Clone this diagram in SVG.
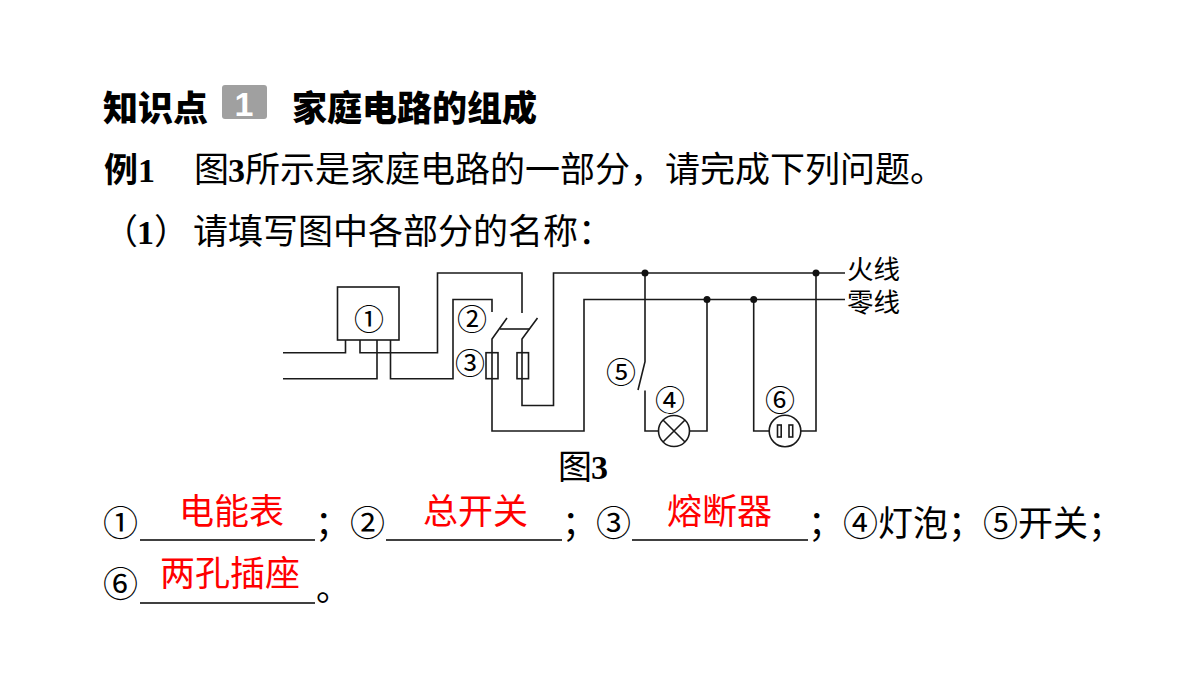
<svg xmlns="http://www.w3.org/2000/svg" width="1200" height="675" viewBox="0 0 1200 675">
<style>
text{font-family:"Liberation Serif","Noto Sans CJK SC",serif;fill:#000}
.t{font-size:35px;font-family:"Noto Sans CJK SC",sans-serif;font-weight:400}
.b{font-size:35px;font-family:"Noto Sans CJK SC",sans-serif;font-weight:900}
.n{font-size:34px;font-family:"Liberation Serif",serif;font-weight:700}
.r{font-size:35px;font-family:"Noto Sans CJK SC",sans-serif;fill:#f00}
.c{font-size:30px;font-family:"Noto Sans CJK SC",sans-serif;text-anchor:middle}
.l{font-size:26.5px;font-family:"Noto Sans CJK SC",sans-serif}
.w{fill:none;stroke:#1a1a1a;stroke-width:1.6}
.u{stroke:#000;stroke-width:1.6;fill:none}
.d{fill:#111}
</style>
<rect width="1200" height="675" fill="#fff"/>
<g id="heading">
<text class="b" x="103" y="121">知识点</text>
<rect x="222" y="85" width="45" height="34" rx="3" fill="#a0a0a0"/>
<text x="244" y="116" font-size="34" font-weight="700" text-anchor="middle" style="font-family:'Liberation Sans',sans-serif;fill:#fff">1</text>
<text class="b" x="292" y="121">家庭电路的组成</text>
</g>
<g id="question">
<text class="b" x="104" y="182" style="font-size:34px;font-weight:700">例</text><text class="n" x="138" y="182">1</text>
<text class="t" x="194" y="182">图</text><text class="n" x="228" y="182">3</text>
<text class="t" x="245" y="182">所示是家庭电路的一部分，请完成下列问题。</text>
<text class="t" x="103" y="244">（</text><text class="n" x="137" y="244">1</text><text class="t" x="154" y="244">）</text>
<text class="t" x="193" y="244">请填写图中各部分的名称：</text>
</g>
<g id="connectors">
<path class="w" d="M283 352.7H345.5V340"/>
<path class="w" d="M360 340V352.7H437.5V273H522V313"/>
<path class="w" d="M283 378.7H377V340"/>
<path class="w" d="M390.5 340V378.7H453V299.5H492V312"/>
<path class="w" d="M507 318L492 339V431H584V299.5H845"/>
<path class="w" d="M537.5 318L522 339V405.5H553.5V273H845"/>
<path class="w" d="M500 329H530"/>
<path class="w" d="M645 273V361.7L638 390"/>
<path class="w" d="M645 390.5V431H658.5"/>
<path class="w" d="M689.5 431H707V299.5"/>
<path class="w" d="M753.7 299.5V431H769"/>
<path class="w" d="M801 431H816V273"/>
<circle class="d" cx="645" cy="273" r="3.5"/>
<circle class="d" cx="707" cy="299.5" r="3.5"/>
<circle class="d" cx="753.7" cy="299.5" r="3.5"/>
<circle class="d" cx="816" cy="273" r="3.5"/>
</g>
<g id="meter"><rect class="w" x="337.5" y="287" width="61.5" height="53"/><text class="c" x="369" y="330">①</text></g>
<g id="switch-label"><text class="c" x="472" y="330">②</text></g>
<g id="fuses">
<text class="c" x="470" y="374">③</text>
<rect class="w" x="486" y="352.7" width="12" height="26"/>
<rect class="w" x="517" y="352.7" width="11.5" height="26"/>
</g>
<g id="switch-5"><text class="c" x="621" y="383">⑤</text></g>
<g id="lamp">
<text class="c" x="670" y="411">④</text>
<circle class="w" cx="674" cy="431" r="15.5"/>
<path class="w" d="M663 420L685 442M685 420L663 442"/>
</g>
<g id="socket">
<text class="c" x="780" y="411">⑥</text>
<circle class="w" cx="785" cy="431" r="15.8"/>
<rect class="w" x="777.5" y="425" width="3.7" height="12"/>
<rect class="w" x="789" y="425" width="3.7" height="12"/>
</g>
<g id="line-labels">
<text class="l" x="847" y="279">火线</text>
<text class="l" x="847" y="312">零线</text>
</g>
<g id="caption"><text class="t" x="558" y="479" style="font-size:34px">图</text><text class="n" x="591" y="479">3</text></g>
<g id="answers">
<text class="t" x="103" y="536">①</text>
<path class="u" d="M140 540H315"/>
<text class="r" x="179" y="524">电能表</text>
<text class="t" x="315" y="536">；</text>
<text class="t" x="350" y="536">②</text>
<path class="u" d="M386 540H562"/>
<text class="r" x="423" y="524">总开关</text>
<text class="t" x="562" y="536">；</text>
<text class="t" x="596" y="536">③</text>
<path class="u" d="M632 540H808"/>
<text class="r" x="667" y="524">熔断器</text>
<text class="t" x="808" y="536">；④灯泡；⑤开关；</text>
<text class="t" x="103" y="597">⑥</text>
<path class="u" d="M140 603H315"/>
<text class="r" x="160" y="586">两孔插座</text>
<text class="t" x="316" y="601">。</text>
</g>
</svg>
